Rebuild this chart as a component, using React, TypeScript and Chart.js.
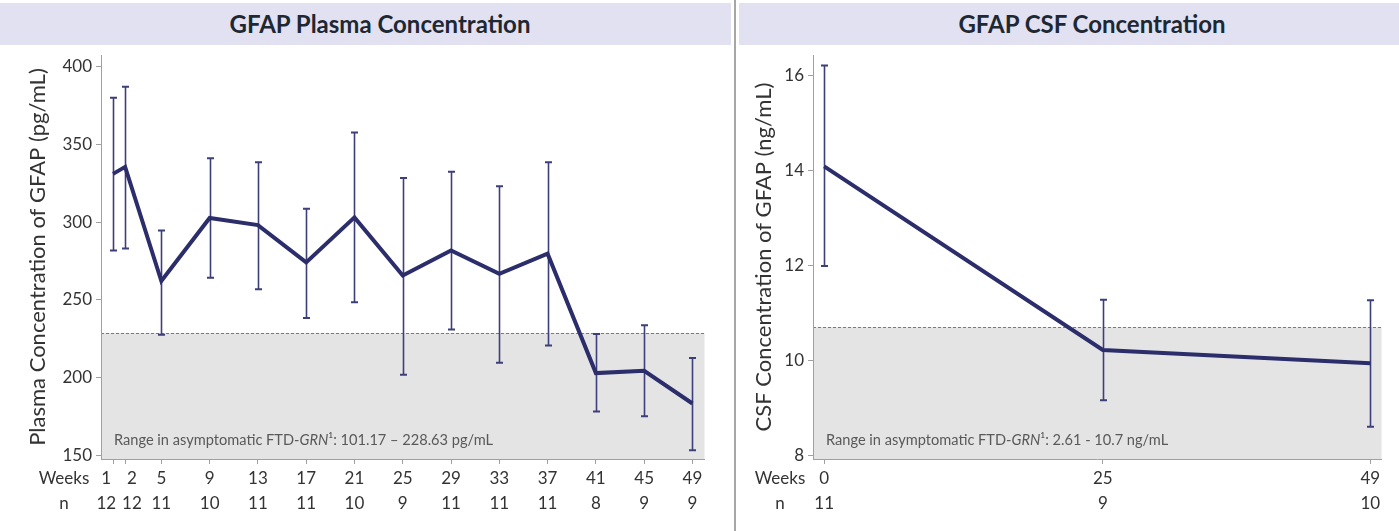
import React, { useEffect, useRef } from "react";
import { Chart, registerables } from "chart.js";

Chart.register(...registerables);

// ---------- Data ----------
const plasmaWeeks = [1, 2, 5, 9, 13, 17, 21, 25, 29, 33, 37, 41, 45, 49];
const plasmaN = [12, 12, 11, 10, 11, 11, 10, 9, 11, 11, 11, 8, 9, 9];
const plasmaMean = [331, 335.5, 262, 302.6, 298, 274, 303, 265.6, 281.7, 266.7, 279.6, 202.8, 204.3, 183.2];
const plasmaUpper = [380, 387, 294.5, 341, 338.5, 308.6, 357.7, 328.4, 332.3, 323, 338.5, 228, 233.5, 212.5];
const plasmaLower = [281.7, 283, 227.4, 264.1, 256.8, 238.3, 248.4, 201.7, 230.8, 209.5, 220.5, 178, 175, 153.2];
const plasmaYTicks = [150, 200, 250, 300, 350, 400];
const plasmaRange = [101.17, 228.63];

const csfWeeks = [0, 25, 49];
const csfN = [11, 9, 10];
const csfMean = [14.09, 10.22, 9.94];
const csfUpper = [16.22, 11.28, 11.27];
const csfLower = [11.99, 9.16, 8.6];
const csfYTicks = [8, 10, 12, 14, 16];
const csfRange = [2.61, 10.7];

// ---------- Styles ----------
const FONT = "Lato, 'Open Sans', sans-serif";
const LINE_COLOR = "#2c2e6c";
const ERR_COLOR = "#3d3f7a";
const AXIS_COLOR = "#a0a0a0";
const TEXT_COLOR = "#333333";
const CANVAS_H = 531;
const PLOT_TOP = 55;
const PLOT_BOTTOM = 459;
const YTITLE_SIZE = 22;

type Panel = {
  weeks: number[];
  n: number[];
  mean: number[];
  upper: number[];
  lower: number[];
  yTicks: number[];
  yMin: number;
  yMax: number;
  xMin: number;
  xMax: number;
  range: number[];
  rangeSep: string;
  unit: string;
  yTitle: string;
  width: number;
  axisLeft: number;
  axisRight: number;
  titleCenter: number;
  rowLabelOffset: number;
};

function makeDecor(p: Panel) {
  return {
    id: "decor",
    beforeDraw(chart: any) {
      const { ctx, chartArea: ca, scales } = chart;
      const y = scales.y;
      const top = y.getPixelForValue(p.range[1]);
      const bot = Math.min(ca.bottom, y.getPixelForValue(p.range[0]));
      ctx.save();
      ctx.fillStyle = "#e4e4e4";
      ctx.fillRect(ca.left, top, ca.right - ca.left, bot - top);
      ctx.strokeStyle = "#7a7a7a";
      ctx.lineWidth = 1;
      ctx.setLineDash([3, 2]);
      ctx.beginPath();
      const ty = Math.round(top) + 0.5;
      ctx.moveTo(ca.left, ty);
      ctx.lineTo(ca.right, ty);
      ctx.stroke();
      ctx.setLineDash([]);

      // range text
      const tx = ca.left + 13;
      const tb = ca.bottom - 14;
      ctx.fillStyle = "#595959";
      ctx.textBaseline = "alphabetic";
      ctx.textAlign = "left";
      const normal = `14.6px ${FONT}`;
      const italic = `italic 14.6px ${FONT}`;
      const parts: [string, string][] = [
        ["Range in asymptomatic FTD-", normal],
        ["GRN", italic],
        ["\u00b9", normal],
        [`: ${p.range[0]} ${p.rangeSep} ${p.range[1]} ${p.unit}`, normal],
      ];
      let cx = tx;
      for (const [s, f] of parts) {
        ctx.font = f;
        ctx.fillText(s, cx, tb);
        cx += ctx.measureText(s).width;
      }
      ctx.restore();
    },
    beforeDatasetsDraw(chart: any) {
      const { ctx, scales } = chart;
      const x = scales.x;
      const y = scales.y;
      ctx.save();
      ctx.strokeStyle = ERR_COLOR;
      p.weeks.forEach((w, i) => {
        const px = Math.round(x.getPixelForValue(w)) + 0.5;
        const pu = y.getPixelForValue(p.upper[i]);
        const pl = y.getPixelForValue(p.lower[i]);
        ctx.lineWidth = 1.6;
        ctx.beginPath();
        ctx.moveTo(px, pu);
        ctx.lineTo(px, pl);
        ctx.stroke();
        ctx.lineWidth = 2;
        ctx.beginPath();
        ctx.moveTo(px - 3.5, pu);
        ctx.lineTo(px + 3.5, pu);
        ctx.moveTo(px - 3.5, pl);
        ctx.lineTo(px + 3.5, pl);
        ctx.stroke();
      });
      ctx.restore();
    },
    afterDraw(chart: any) {
      const { ctx, chartArea: ca, scales } = chart;
      const x = scales.x;
      ctx.save();
      ctx.font = `17px ${FONT}`;
      ctx.fillStyle = TEXT_COLOR;
      ctx.textAlign = "center";
      ctx.textBaseline = "alphabetic";
      const row1 = ca.bottom + 24.5;
      const row2 = ca.bottom + 50;
      const items = p.weeks.map((w, i) => {
        const a = String(w);
        const b = String(p.n[i]);
        const wd = Math.max(ctx.measureText(a).width, ctx.measureText(b).width);
        return { c: x.getPixelForValue(w), w: wd, a, b };
      });
      const gap = 6;
      for (let it = 0; it < 20; it++) {
        for (let i = 0; i < items.length - 1; i++) {
          const a = items[i];
          const b = items[i + 1];
          const need = (a.w + b.w) / 2 + gap;
          const d = b.c - a.c;
          if (d < need) {
            const s = (need - d) / 2;
            a.c -= s;
            b.c += s;
          }
        }
      }
      items.forEach((it) => {
        ctx.fillText(it.a, it.c, row1);
        ctx.fillText(it.b, it.c, row2);
      });
      const lx = ca.left - p.rowLabelOffset;
      ctx.fillText("Weeks", lx, row1);
      ctx.fillText("n", lx, row2);
      ctx.restore();
    },
  };
}

function PanelChart({ p }: { p: Panel }) {
  const ref = useRef<HTMLCanvasElement>(null);
  useEffect(() => {
    if (!ref.current) return;
    const chart = new Chart(ref.current, {
      type: "line",
      data: {
        datasets: [
          {
            data: p.weeks.map((w, i) => ({ x: w, y: p.mean[i] })),
            borderColor: LINE_COLOR,
            borderWidth: 4,
            pointRadius: 0,
            tension: 0,
            fill: false,
          },
        ],
      },
      options: {
        animation: false,
        responsive: false,
        events: [],
        layout: {
          padding: { top: PLOT_TOP, left: 0, right: p.width - p.axisRight, bottom: 0 },
        },
        plugins: {
          legend: { display: false },
          tooltip: { enabled: false },
          title: { display: false },
        },
        scales: {
          x: {
            type: "linear",
            min: p.xMin,
            max: p.xMax,
            afterBuildTicks: (s: any) => {
              s.ticks = p.weeks.map((v) => ({ value: v }));
            },
            afterFit: (s: any) => {
              s.height = CANVAS_H - PLOT_BOTTOM;
            },
            ticks: { display: false, autoSkip: false },
            grid: { drawOnChartArea: false, drawTicks: true, tickLength: 5, color: AXIS_COLOR },
            border: { display: true, color: AXIS_COLOR, width: 1 },
          },
          y: {
            type: "linear",
            min: p.yMin,
            max: p.yMax,
            afterBuildTicks: (s: any) => {
              s.ticks = p.yTicks.map((v) => ({ value: v }));
            },
            afterFit: (s: any) => {
              s.width = p.axisLeft;
            },
            ticks: {
              autoSkip: false,
              padding: 4,
              color: TEXT_COLOR,
              font: { family: FONT, size: 17 },
            },
            grid: { drawOnChartArea: false, drawTicks: true, tickLength: 5, color: AXIS_COLOR },
            border: { display: true, color: AXIS_COLOR, width: 1 },
            title: {
              display: true,
              text: p.yTitle,
              color: TEXT_COLOR,
              font: { family: FONT, size: YTITLE_SIZE },
              padding: { top: p.titleCenter - YTITLE_SIZE * 0.6, bottom: 0 },
            },
          },
        },
      },
      plugins: [makeDecor(p) as any],
    } as any);
    return () => chart.destroy();
  }, [p]);
  return <canvas ref={ref} width={p.width} height={CANVAS_H} style={{ display: "block" }} />;
}

const plasmaPanel: Panel = {
  weeks: plasmaWeeks,
  n: plasmaN,
  mean: plasmaMean,
  upper: plasmaUpper,
  lower: plasmaLower,
  yTicks: plasmaYTicks,
  yMin: 147.5,
  yMax: 407.5,
  xMin: 0,
  xMax: 50,
  range: plasmaRange,
  rangeSep: "\u2013",
  unit: "pg/mL",
  yTitle: "Plasma Concentration of GFAP (pg/mL)",
  width: 730,
  axisLeft: 101,
  axisRight: 704.5,
  titleCenter: 38,
  rowLabelOffset: 37,
};

const csfPanel: Panel = {
  weeks: csfWeeks,
  n: csfN,
  mean: csfMean,
  upper: csfUpper,
  lower: csfLower,
  yTicks: csfYTicks,
  yMin: 7.92,
  yMax: 16.44,
  xMin: -1,
  xMax: 50,
  range: csfRange,
  rangeSep: "-",
  unit: "ng/mL",
  yTitle: "CSF Concentration of GFAP (ng/mL)",
  width: 662,
  axisLeft: 76,
  axisRight: 644.5,
  titleCenter: 27,
  rowLabelOffset: 33,
};

const titleStyle: React.CSSProperties = {
  position: "absolute",
  top: 3,
  height: 42,
  background: "#e1e1f2",
};

const titleText: React.CSSProperties = {
  position: "absolute",
  top: 3,
  height: 42,
  lineHeight: "42px",
  transform: "translateX(-50%)",
  whiteSpace: "nowrap",
  fontFamily: FONT,
  fontWeight: 700,
  fontSize: 24,
  color: "#1e2833",
};

export default function App() {
  return (
    <div
      style={{
        position: "absolute",
        left: 0,
        top: 0,
        width: 1399,
        height: 531,
        background: "#ffffff",
        overflow: "hidden",
      }}
    >
      <div style={{ ...titleStyle, left: 0, width: 731 }} />
      <div style={{ ...titleStyle, left: 739, width: 660 }} />
      <div style={{ position: "absolute", left: 734, top: 0, width: 2, height: 531, background: "#a6a6a6" }} />
      <div style={{ ...titleText, left: 380 }}>GFAP Plasma Concentration</div>
      <div style={{ ...titleText, left: 1092 }}>GFAP CSF Concentration</div>
      <div style={{ position: "absolute", left: 0, top: 0 }}>
        <PanelChart p={plasmaPanel} />
      </div>
      <div style={{ position: "absolute", left: 737, top: 0 }}>
        <PanelChart p={csfPanel} />
      </div>
    </div>
  );
}
